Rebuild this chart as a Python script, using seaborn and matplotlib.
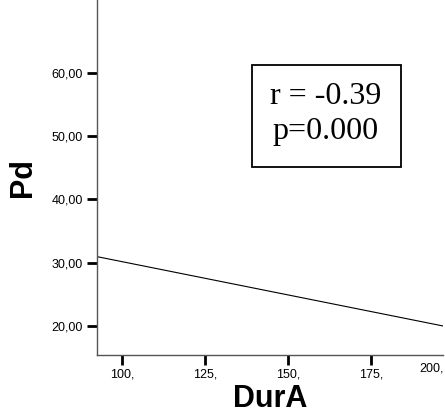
import numpy as np
import pandas as pd
import matplotlib
matplotlib.use("Agg")
import matplotlib.pyplot as plt
import seaborn as sns
from matplotlib.patches import Rectangle

# fitted line endpoints
dur_a = [92.5, 196.7]
pd_fit = [30.95, 20.0]
x_ticks = [100, 125, 150, 175]
x_labels = ["100,", "125,", "150,", "175,"]
y_ticks = [20, 30, 40, 50, 60]
y_labels = ["20,00", "30,00", "40,00", "50,00", "60,00"]
r_text = "r = -0.39"
p_text = "p=0.000"

sns.set_style("white")
plt.rcParams['font.family'] = ['Liberation Sans', 'DejaVu Sans']
plt.rcParams['text.color'] = 'black'
plt.rcParams['axes.labelcolor'] = 'black'
plt.rcParams['xtick.color'] = 'black'
plt.rcParams['ytick.color'] = 'black'

df = pd.DataFrame({"DurA": dur_a, "Pd": pd_fit})

fig = plt.figure(figsize=(4.45, 4.19), dpi=100)
ax = fig.add_axes([0.218, 0.1527, 0.7775, 0.8473])
sns.lineplot(data=df, x="DurA", y="Pd", ax=ax, color="black", linewidth=0.8)

ax.set_xlim(92.47, 196.7)
ax.set_ylim(15.41, 71.5)
ax.set_xticks(x_ticks)
ax.set_xticklabels(x_labels, fontsize=9)
ax.set_yticks(y_ticks)
ax.set_yticklabels(y_labels, fontsize=9)
ax.tick_params(axis="both", direction="out", length=7, width=2, color="black", pad=3, left=True, bottom=True)

for s in ["top", "right"]:
    ax.spines[s].set_visible(False)
for s in ["left", "bottom"]:
    ax.spines[s].set_color("#555555")
    ax.spines[s].set_linewidth(1)

ax.set_xlabel("DurA", fontsize=22, fontweight="bold", labelpad=2)
ax.set_ylabel("Pd", fontsize=22, fontweight="bold", labelpad=10)

# last tick label is squeezed at the right edge
fig.text(0.997, 1 - 368 / 419, "200,", ha="right", va="center", fontsize=9)

# stats box
fig.patches.append(Rectangle((252 / 445, 1 - 167 / 419), 149 / 445, 102 / 419,
                             transform=fig.transFigure, fill=False, edgecolor="black", linewidth=1.3))
fig.text(326 / 445, 1 - 97 / 419, r_text, ha="center", va="center", fontsize=23, family="Liberation Serif")
fig.text(326 / 445, 1 - 131 / 419, p_text, ha="center", va="center", fontsize=23, family="Liberation Serif")

fig.savefig("out.png", dpi=100)
